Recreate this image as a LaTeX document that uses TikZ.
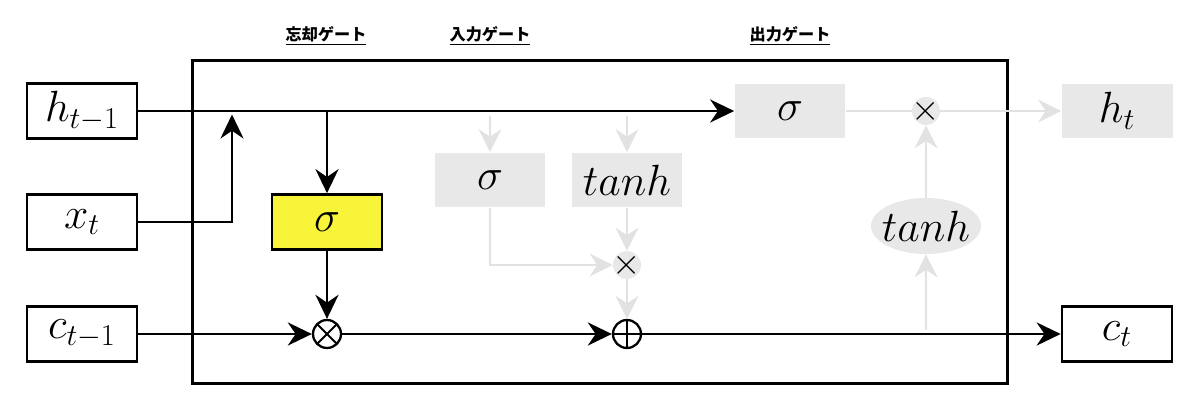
\documentclass[tikz,border=0pt]{standalone}
\usepackage{fontspec}
\newfontfamily\cjk{Noto Sans CJK JP}
\usetikzlibrary{shapes.geometric, arrows.meta}
\definecolor{gateyellow}{HTML}{F8F43A}
\definecolor{ghostfill}{HTML}{E8E8E8}
\definecolor{ghostline}{HTML}{E2E2E2}
\tikzstyle{vec} = [rectangle, minimum width=2.2cm, minimum height=1.1cm, text centered, draw=black, line width=1.5pt, font=\fontsize{24}{29}\selectfont]
\tikzstyle{gate} = [vec, fill=gateyellow]
\tikzstyle{ghost} = [rectangle, minimum width=2.22cm, minimum height=1.1cm, text centered, fill=ghostfill, font=\fontsize{24}{29}\selectfont]
\tikzstyle{gell} = [ellipse, minimum width=2.2cm, minimum height=1.12cm, inner xsep=-6pt, inner ysep=0pt, fill=ghostfill, font=\fontsize{24}{29}\selectfont]
\tikzstyle{gmul} = [circle, minimum size=0.56cm, inner sep=-4pt, fill=ghostfill, font=\fontsize{20}{22}\selectfont]
\tikzstyle{otimes} = [circle, minimum size=0.56cm, inner sep=0pt, draw=black, line width=1.3pt, fill=white,
  path picture={\draw[line width=1.1pt] (path picture bounding box.north west) -- (path picture bounding box.south east)
  (path picture bounding box.north east) -- (path picture bounding box.south west);}]
\tikzstyle{oplus} = [circle, minimum size=0.56cm, inner sep=0pt, draw=black, line width=1.3pt, fill=white,
  path picture={\draw[line width=1.1pt] (path picture bounding box.north) -- (path picture bounding box.south)
  (path picture bounding box.west) -- (path picture bounding box.east);}]
\tikzstyle{cell} = [rectangle, minimum width=16.32cm, minimum height=6.48cm, draw=black, line width=1.7pt]
\tikzstyle{title} = [font=\cjk\bfseries\fontsize{9.2}{11}\selectfont]
\tikzstyle{arrow} = [line width=1.7pt, ->, >={Stealth[length=4.8mm, width=4.6mm]}]
\tikzstyle{garrow} = [line width=1.2pt, color=ghostline, ->, >={Stealth[length=4.6mm, width=4.6mm]}]
\tikzstyle{gline} = [line width=1.2pt, color=ghostline]

\begin{document}
\begin{tikzpicture}[x=0.02cm, y=-0.02cm]
\useasboundingbox (0,0) rectangle (1200,415);

\node (box) [cell] at (600,222) {};

\node (flabel) [title] at (326,36) {\underline{忘却ゲート}};
\node (ilabel) [title] at (490,36) {\underline{入力ゲート}};
\node (olabel) [title] at (790,36) {\underline{出力ゲート}};

\node (hprev) [vec] at (82,111) {$h_{t-1}$};
\node (xt) [vec] at (82,222) {$x_t$};
\node (cprev) [vec] at (82,334) {$c_{t-1}$};
\node (fgate) [gate] at (327,222) {$\sigma$};
\node (fmul) [otimes] at (327,334) {};
\node (igate) [ghost] at (490,180) {$\sigma$};
\node (cgate) [ghost] at (627,180) {$tanh$};
\node (imul) [gmul] at (627,265) {$\times$};
\node (add) [oplus] at (627,334) {};
\node (ogate) [ghost] at (790,111) {$\sigma$};
\node (omul) [gmul] at (926,111) {$\times$};
\node (ctanh) [gell] at (926,226) {$tanh$};
\node (ht) [ghost] at (1117,111) {$h_t$};
\node (ct) [vec] at (1117,334) {$c_t$};

\coordinate (merge) at (232,111);
\coordinate (fsplit) at (327,111);
\coordinate (isplit) at (490,111);
\coordinate (csplit) at (627,111);
\coordinate (tap) at (926,334);

% gray paths
\draw [garrow, shorten <=3pt] (isplit) -- (igate);
\draw [garrow, shorten <=3pt] (csplit) -- (cgate);
\draw [garrow] (igate) |- (imul);
\draw [garrow] (cgate) -- (imul);
\draw [garrow] (imul) -- (add);
\draw [gline] (ogate) -- (omul);
\draw [garrow] (omul) -- (ht);
\draw [garrow, shorten <=2pt] (tap) -- (ctanh);
\draw [garrow] (ctanh) -- (omul);

% black paths
\draw [arrow] (hprev) -- (ogate);
\draw [arrow, shorten >=2pt] (xt) -| (merge);
\draw [arrow] (fsplit) -- (fgate);
\draw [arrow] (fgate) -- (fmul);
\draw [arrow] (cprev) -- (fmul);
\draw [arrow] (fmul) -- (add);
\draw [arrow] (add) -- (ct);

\end{tikzpicture}
\end{document}
